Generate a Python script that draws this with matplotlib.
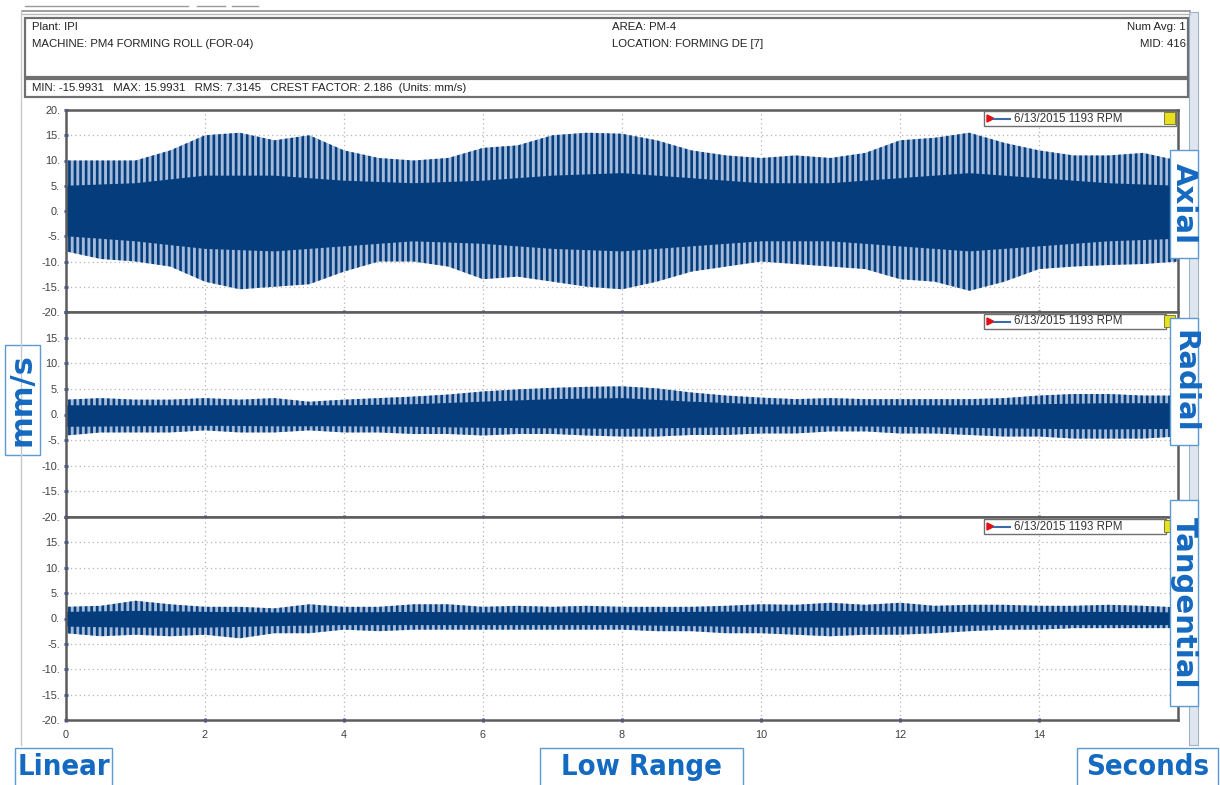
"""Recreate the PM4 forming roll time-waveform screen (axial / radial / tangential)."""
import matplotlib
matplotlib.use("Agg")
import matplotlib.pyplot as plt
from matplotlib.patches import Rectangle, Polygon

W, H = 1220, 785

# Envelope sample times (s) and peak envelopes (mm/s).
t_env = [0, 0.5, 1, 1.5, 2, 2.5, 3, 3.5, 4, 4.5, 5, 5.5, 6, 6.5, 7, 7.5, 8,
         8.5, 9, 9.5, 10, 10.5, 11, 11.5, 12, 12.5, 13, 13.5, 14, 14.5, 15, 15.5, 16]
t_core = [0, 1, 2, 3, 4, 5, 6, 7, 8, 9, 10, 11, 12, 13, 14, 15, 16]

axial_up = [10, 10, 10, 12, 15, 15.5, 14, 15, 12, 10.5, 10, 10.5, 12.5, 13, 15, 15.5, 15.3,
            14, 12, 11, 10.5, 11, 10.5, 11.5, 14, 14.5, 15.5, 13.5, 12, 11, 11, 11.5, 10]
axial_lo = [-8, -9.5, -10, -11, -14, -15.5, -15, -14.5, -12, -10, -10, -11, -13.5, -13, -14, -15, -15.5,
            -14, -12, -11, -10, -10.5, -11, -11.5, -13.5, -14, -15.8, -14, -11.5, -11, -10.7, -10.5, -10]
axial_core_up = [5, 5.5, 7, 7, 6, 5.5, 6, 7, 7.5, 6.5, 5.5, 5.5, 6.5, 7.5, 6.5, 5.5, 5]
axial_core_lo = [-5, -6, -7.5, -8, -7, -6, -6.5, -7.5, -8, -7, -6, -6, -7, -8, -7, -6, -5.5]

radial_up = [2.9, 3.2, 2.9, 2.9, 3.2, 2.9, 3.2, 2.5, 2.9, 3.2, 3.5, 3.9, 4.5, 4.9, 5.2, 5.4, 5.5,
             5.1, 4.3, 3.7, 3.3, 3.0, 3.2, 3.0, 3.0, 3.0, 3.0, 3.2, 3.7, 4.0, 4.0, 3.7, 3.7]
radial_lo = [-4.1, -3.5, -3.5, -3.5, -3.1, -3.5, -3.5, -3.1, -3.5, -3.5, -3.8, -3.8, -4.1, -3.8, -3.8, -4.1, -4.3,
             -4.3, -4.0, -4.0, -3.7, -3.7, -3.3, -3.3, -3.7, -3.7, -4.0, -4.3, -4.3, -4.7, -4.7, -4.7, -4.3]
radial_core_up = [1.8, 1.8, 1.8, 1.8, 1.8, 2.0, 2.5, 3.0, 3.2, 2.5, 2.0, 1.8, 1.8, 1.8, 2.0, 2.2, 2.2]
radial_core_lo = [-2.4, -2.3, -2.2, -2.3, -2.3, -2.4, -2.6, -2.7, -2.8, -2.6, -2.4, -2.3, -2.4, -2.6, -2.8, -2.9, -2.8]

tang_up = [2.3, 2.5, 3.5, 2.8, 2.3, 2.3, 2.0, 2.8, 2.3, 2.3, 2.8, 2.8, 2.3, 2.5, 2.3, 2.5, 2.3,
           2.3, 2.3, 2.5, 2.8, 2.7, 3.1, 2.7, 3.1, 2.5, 2.7, 2.7, 2.5, 2.5, 2.7, 2.5, 2.2]
tang_lo = [-2.9, -3.5, -3.2, -3.5, -3.2, -3.9, -2.9, -2.9, -2.2, -2.5, -2.2, -2.2, -2.2, -2.2, -2.2, -2.2, -2.2,
           -2.5, -2.5, -2.9, -2.9, -3.2, -3.5, -3.2, -3.2, -2.9, -2.5, -2.2, -2.2, -1.9, -1.9, -1.9, -1.9]
tang_core_up = [1.3, 1.5, 1.3, 1.2, 1.2, 1.3, 1.2, 1.2, 1.2, 1.3, 1.4, 1.5, 1.4, 1.3, 1.3, 1.3, 1.2]
tang_core_lo = [-1.6, -1.8, -1.8, -1.5, -1.3, -1.3, -1.3, -1.3, -1.3, -1.5, -1.7, -1.8, -1.6, -1.4, -1.3, -1.3, -1.3]

y_ticks = [-20, -15, -10, -5, 0, 5, 10, 15, 20]
x_ticks = [0, 2, 4, 6, 8, 10, 12, 14]
legend_text = "6/13/2015 1193 RPM"
header_left = ["Plant: IPI", "MACHINE: PM4 FORMING ROLL (FOR-04)"]
header_mid = ["AREA: PM-4", "LOCATION: FORMING DE [7]"]
header_right = ["Num Avg: 1", "MID: 416"]
stats_text = "MIN: -15.9931   MAX: 15.9931   RMS: 7.3145   CREST FACTOR: 2.186  (Units: mm/s)"

NAVY = "#053d7c"
SPIKE = "#a3badb"
LABEL_BLUE = "#1469c0"
BOX_EDGE = "#5b9bd5"
SMALL = dict(family="Liberation Sans", fontsize=8.2, color="#222222")

plt.rcParams["hatch.linewidth"] = 1.9

fig = plt.figure(figsize=(W / 100, H / 100), dpi=100)


def fx(x):
    return x / W


def fy(y):
    return 1 - y / H


def rect(x0, y0, x1, y1, **kw):
    fig.add_artist(Rectangle((fx(x0), fy(y1)), (x1 - x0) / W, (y1 - y0) / H,
                             transform=fig.transFigure, **kw))


def hline(x0, x1, y, **kw):
    fig.add_artist(plt.Line2D([fx(x0), fx(x1)], [fy(y), fy(y)], transform=fig.transFigure, **kw))


# window chrome
for x0, x1 in [(25, 188), (197, 225), (232, 258)]:
    hline(x0, x1, 6, color="#9a9a9a", lw=1)
hline(22, 1190, 11, color="#8c8c8c", lw=1.2)
hline(22, 1190, 14, color="#b8b8b8", lw=1.0)
fig.add_artist(plt.Line2D([fx(21), fx(21)], [fy(11), fy(745)], transform=fig.transFigure,
                          color="#c8c8c8", lw=1))
rect(1189, 12, 1198, 745, facecolor="#dfe6ef", edgecolor="#9fb2c8", lw=0.8)
rect(25, 18, 1188, 77, facecolor="white", edgecolor="#707070", lw=1.6)
rect(25, 79, 1188, 97, facecolor="white", edgecolor="#707070", lw=1.6)

for i, s in enumerate(header_left):
    fig.text(fx(32), fy(27 + 17 * i), s, ha="left", va="center", **SMALL)
for i, s in enumerate(header_mid):
    fig.text(fx(612), fy(27 + 17 * i), s, ha="left", va="center", **SMALL)
for i, s in enumerate(header_right):
    fig.text(fx(1186), fy(27 + 17 * i), s, ha="right", va="center", **SMALL)
fig.text(fx(32), fy(88), stats_text, ha="left", va="center", **SMALL)

panels = [
    ("Axial", 110, 312, axial_up, axial_lo, axial_core_up, axial_core_lo, (150, 258)),
    ("Radial", 312, 517, radial_up, radial_lo, radial_core_up, radial_core_lo, (318, 445)),
    ("Tangential", 517, 720, tang_up, tang_lo, tang_core_up, tang_core_lo, (500, 706)),
]

for k, (name, top, bot, up, lo, cup, clo, (ly0, ly1)) in enumerate(panels):
    ax = fig.add_axes([fx(66), fy(bot), (1178 - 66) / W, (bot - top) / H])
    ax.set_xlim(0, 16)
    ax.set_ylim(-20, 20)
    ax.set_axisbelow(True)

    # spiky outer band: pale fill with dense vertical navy hatching
    ax.fill_between(t_env, lo, up, facecolor=SPIKE, edgecolor=NAVY, hatch="|||", linewidth=0)
    ax.fill_between(t_core, clo, cup, facecolor=NAVY, linewidth=0)

    ax.set_yticks(y_ticks)
    ax.set_yticklabels(["" if (v == 20 and k > 0) else f"{v}." for v in y_ticks])
    ax.set_xticks(x_ticks)
    if k == 2:
        ax.set_xticklabels([str(v) for v in x_ticks])
    else:
        ax.set_xticklabels([])
    ax.tick_params(colors="#2b43c4", length=2.5, width=2, direction="inout", pad=3,
                   labelsize=7.8, labelcolor="#404040")
    ax.tick_params(axis="x", pad=6)
    for lab in ax.get_xticklabels() + ax.get_yticklabels():
        lab.set_family("Liberation Sans")
    ax.grid(True, color="#b4b4b4", lw=0.9, linestyle=(0, (1, 2.5)))
    for sp in ax.spines.values():
        sp.set_color("#5c5c5c")
        sp.set_linewidth(1.8)

    # per-panel legend strip
    ly = top + (1 if k == 0 else 2)
    rx = 1176 if k == 0 else 1166
    rect(984, ly, rx, ly + 15, facecolor="white", edgecolor="#707070", lw=1.0)
    fig.add_artist(Polygon([(fx(987), fy(ly + 4)), (fx(987), fy(ly + 11)), (fx(994), fy(ly + 7.5))],
                           closed=True, transform=fig.transFigure, color="#e01010"))
    hline(994, 1010, ly + 7.5, color="#3a6aa8", lw=1.5)
    fig.text(fx(1014), fy(ly + 7.5), legend_text, ha="left", va="center",
             family="Liberation Sans", fontsize=8.3, color="#333333")
    rect(1164, ly + 1, 1175, ly + 13, facecolor="#e8e020", edgecolor="#707020", lw=0.6)

    # direction label on the right
    rect(1170, ly0, 1198, ly1, facecolor="white", edgecolor=BOX_EDGE, lw=1.0)
    fig.text(fx(1184), fy((ly0 + ly1) / 2), name, rotation=-90, ha="center", va="center",
             family="DejaVu Sans", fontweight="bold", fontsize=21, color=LABEL_BLUE)

# unit label on the left
rect(5, 345, 40, 455, facecolor="white", edgecolor=BOX_EDGE, lw=1.0)
fig.text(fx(22), fy(400), "mm/s", rotation=90, ha="center", va="center",
         family="DejaVu Sans", fontweight="bold", fontsize=22, color=LABEL_BLUE)

# bottom captions
for x0, x1, s in [(15, 112, "Linear"), (540, 743, "Low Range"), (1077, 1218, "Seconds")]:
    rect(x0, 748, x1, 792, facecolor="white", edgecolor=BOX_EDGE, lw=1.0)
    fig.text(fx((x0 + x1) / 2), fy(767), s, ha="center", va="center",
             family="DejaVu Sans", fontstretch="condensed", fontweight="bold",
             fontsize=21, color=LABEL_BLUE)

fig.savefig("out.png", dpi=100)
